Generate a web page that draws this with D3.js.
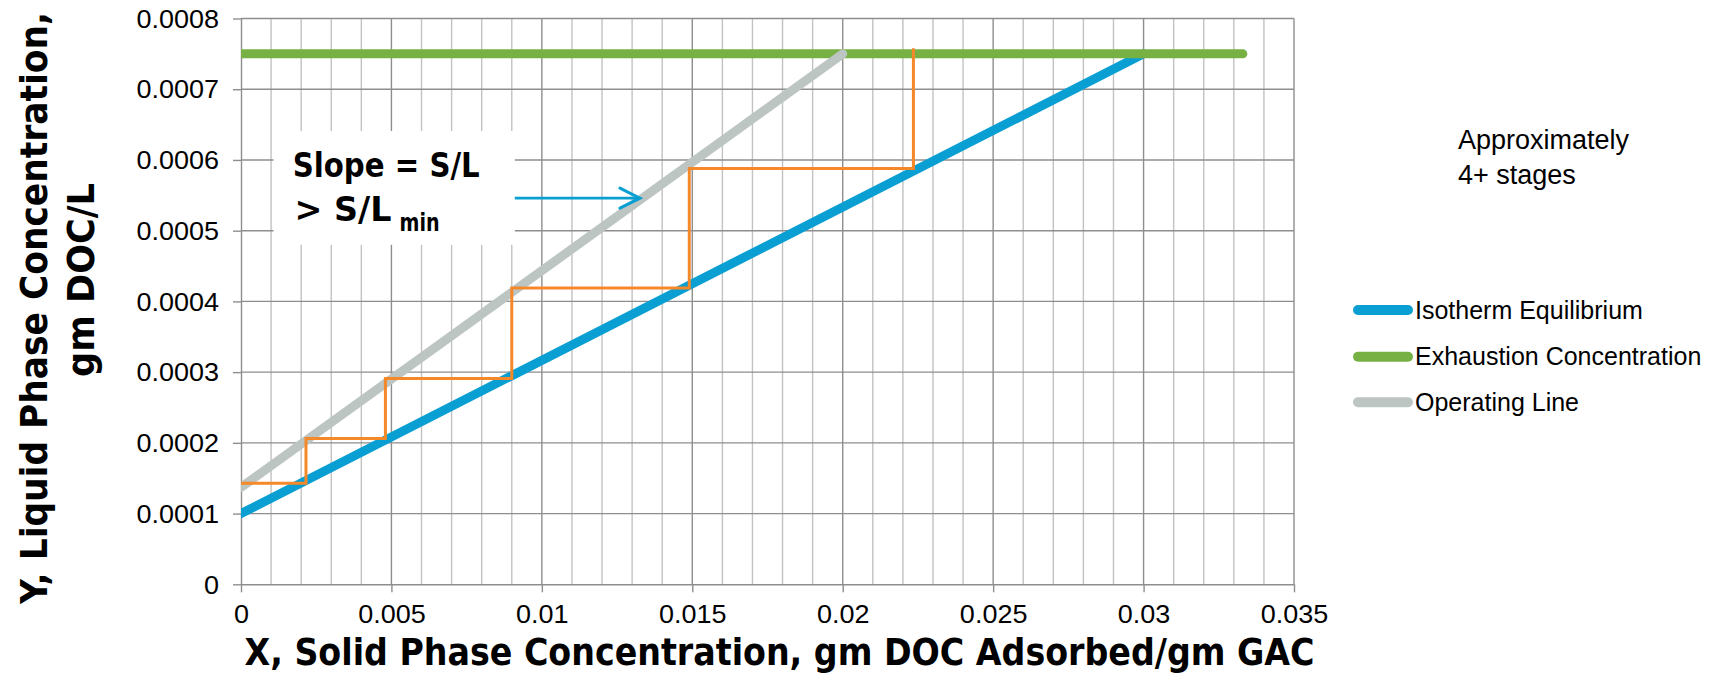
<!DOCTYPE html>
<html>
<head>
<meta charset="utf-8">
<script src="https://cdn.jsdelivr.net/npm/d3@7"></script>
<style>
  html, body { margin: 0; padding: 0; background: #fff; }
  svg { display: block; font-family: "Liberation Sans", Arial, sans-serif; }
  .title { font-family: "DejaVu Sans Condensed", "DejaVu Sans", sans-serif; font-stretch: condensed; font-weight: bold; }
</style>
</head>
<body>
<svg id="chart" width="1716" height="686"></svg>
<script>
// Axis ticks
const xTicks = [0, 0.005, 0.01, 0.015, 0.02, 0.025, 0.03, 0.035];
const xTickLabels = ["0", "0.005", "0.01", "0.015", "0.02", "0.025", "0.03", "0.035"];
const yTicks = [0, 0.0001, 0.0002, 0.0003, 0.0004, 0.0005, 0.0006, 0.0007, 0.0008];
const yTickLabels = ["0", "0.0001", "0.0002", "0.0003", "0.0004", "0.0005", "0.0006", "0.0007", "0.0008"];

// Series: isotherm equilibrium, exhaustion concentration, operating line
const isothermX = [0, 0.03];
const isothermY = [0.0001, 0.00075];
const exhaustionX = [0, 0.0333];
const exhaustionY = [0.00075, 0.00075];
const operatingX = [0, 0.02];
const operatingY = [0.000137, 0.00075];

// Stage-stepping construction between the operating line and the isotherm
const stageX = [0, 0.00216, 0.00216, 0.0048, 0.0048, 0.009, 0.009, 0.0149, 0.0149, 0.02235, 0.02235];
const stageY = [0.000143, 0.000143, 0.000206, 0.000206, 0.000291, 0.000291, 0.000419, 0.000419, 0.000588, 0.000588, 0.000758];

const seriesNames = ["Isotherm Equilibrium", "Exhaustion Concentration", "Operating Line"];
const seriesColors = ["#0a9fd2", "#77b043", "#bcc5c1"];
const stageColor = "#f5892a";

(function draw() {
  const svg = d3.select("#chart");
  const pL = 241, pR = 1294, pT = 18.5, pB = 584.3;

  const x = d3.scaleLinear().domain([0, 0.035]).range([pL, pR]);
  const y = d3.scaleLinear().domain([0, 0.0008]).range([pB, pT]);

  // Grid: minor verticals every 0.001, majors every 0.005, horizontals every 0.0001
  const minorX = d3.range(1, 35).map(i => i / 1000).filter(v => Math.round(v * 1000) % 5 !== 0);
  const grid = svg.append("g");
  grid.selectAll("line.minor").data(minorX).join("line")
    .attr("x1", d => x(d)).attr("x2", d => x(d))
    .attr("y1", pT).attr("y2", pB)
    .attr("stroke", "#c2c2c2").attr("stroke-width", 1.4);
  grid.selectAll("line.majx").data(xTicks.slice(1)).join("line")
    .attr("x1", d => x(d)).attr("x2", d => x(d))
    .attr("y1", pT).attr("y2", pB)
    .attr("stroke", "#8e8e8e").attr("stroke-width", 1.4);
  grid.selectAll("line.majy").data(yTicks.slice(1)).join("line")
    .attr("x1", pL).attr("x2", pR)
    .attr("y1", d => y(d)).attr("y2", d => y(d))
    .attr("stroke", "#8e8e8e").attr("stroke-width", 1.4);

  // Axes
  const xAxis = d3.axisBottom(x).tickValues(xTicks)
    .tickFormat((d, i) => xTickLabels[i]).tickSize(8).tickSizeOuter(0).tickPadding(13);
  const yAxis = d3.axisLeft(y).tickValues(yTicks)
    .tickFormat((d, i) => yTickLabels[i]).tickSize(8).tickSizeOuter(0).tickPadding(14);

  const gx = svg.append("g").attr("transform", `translate(0,${pB})`).call(xAxis);
  const gy = svg.append("g").attr("transform", `translate(${pL},0)`).call(yAxis);
  [gx, gy].forEach(g => {
    g.select(".domain").attr("stroke", "#8e8e8e").attr("stroke-width", 1.4);
    g.selectAll(".tick line").attr("stroke", "#8e8e8e").attr("stroke-width", 1.4);
    g.selectAll(".tick text").attr("fill", "#000").attr("font-size", 25)
      .attr("font-family", "\"Liberation Sans\", Arial, sans-serif")
      .each(function () {
        // labels are set slightly wider than the face's natural width
        const w = this.getComputedTextLength();
        d3.select(this).attr("textLength", w * 1.08).attr("lengthAdjust", "spacingAndGlyphs");
      });
  });
  gy.selectAll(".tick text").attr("dy", "0.35em");

  // Data lines, clipped to the plot area
  svg.append("clipPath").attr("id", "plotClip").append("rect")
    .attr("x", pL).attr("y", 0).attr("width", pR - pL + 20).attr("height", pB);
  const plot = svg.append("g").attr("clip-path", "url(#plotClip)");
  const line = d3.line().x(d => x(d[0])).y(d => y(d[1]));

  const seriesData = [
    d3.zip(isothermX, isothermY),
    d3.zip(exhaustionX, exhaustionY),
    d3.zip(operatingX, operatingY)
  ];
  seriesData.forEach((pts, i) => {
    plot.append("path").attr("d", line(pts))
      .attr("fill", "none").attr("stroke", seriesColors[i])
      .attr("stroke-width", 9).attr("stroke-linecap", "round");
  });

  plot.append("path").attr("d", line(d3.zip(stageX, stageY)))
    .attr("fill", "none").attr("stroke", stageColor)
    .attr("stroke-width", 3).attr("stroke-linejoin", "miter");

  // Slope annotation box
  const ann = svg.append("g");
  ann.append("rect")
    .attr("x", x(0.00108)).attr("y", y(0.000641))
    .attr("width", x(0.0091) - x(0.00108)).attr("height", y(0.00048) - y(0.000641))
    .attr("fill", "#fff");
  ann.append("text").attr("class", "title").attr("x", x(0.00172)).attr("y", y(0.000576))
    .attr("font-size", 34).attr("textLength", 187).attr("lengthAdjust", "spacingAndGlyphs")
    .text("Slope = S/L");
  const t2 = ann.append("text").attr("class", "title").attr("x", x(0.00178)).attr("y", y(0.000513))
    .attr("font-size", 34);
  t2.append("tspan").attr("textLength", 97).attr("lengthAdjust", "spacingAndGlyphs").text("> S/L");
  t2.append("tspan").attr("font-size", 24).attr("dx", 8).attr("dy", 10)
    .attr("textLength", 40).attr("lengthAdjust", "spacingAndGlyphs").text("min");

  // Arrow pointing at the operating line
  const ax0 = x(0.0091), ax1 = x(0.01326), ay = y(0.000546);
  ann.append("line").attr("x1", ax0).attr("x2", ax1 - 1).attr("y1", ay).attr("y2", ay)
    .attr("stroke", "#0a9fd2").attr("stroke-width", 2.6);
  ann.append("path")
    .attr("d", `M${ax1 - 20},${ay - 10}L${ax1},${ay}L${ax1 - 20},${ay + 10}`)
    .attr("fill", "none").attr("stroke", "#0a9fd2").attr("stroke-width", 3)
    .attr("stroke-linecap", "round").attr("stroke-linejoin", "miter");

  // Stage count note
  const note = svg.append("text").attr("font-size", 27).attr("fill", "#000");
  note.append("tspan").attr("x", 1458).attr("y", 149).text("Approximately");
  note.append("tspan").attr("x", 1458).attr("y", 184).text("4+ stages");

  // Legend
  const legend = svg.append("g");
  const legendY = [310, 356.7, 402.3];
  seriesNames.forEach((name, i) => {
    legend.append("line").attr("x1", 1358).attr("x2", 1408)
      .attr("y1", legendY[i]).attr("y2", legendY[i])
      .attr("stroke", seriesColors[i]).attr("stroke-width", 10).attr("stroke-linecap", "round");
    legend.append("text").attr("x", 1415).attr("y", legendY[i] + 8.5)
      .attr("font-size", 25).text(name);
  });

  // Axis titles
  svg.append("text").attr("class", "title").attr("x", (pL + pR) / 2 + 12).attr("y", 665)
    .attr("text-anchor", "middle").attr("font-size", 38)
    .attr("textLength", 1070).attr("lengthAdjust", "spacingAndGlyphs")
    .text("X, Solid Phase Concentration, gm DOC Adsorbed/gm GAC");

  const yt = svg.append("g").attr("transform", "rotate(-90)");
  yt.append("text").attr("class", "title").attr("x", -308).attr("y", 47).attr("text-anchor", "middle")
    .attr("font-size", 38)
    .attr("textLength", 592).attr("lengthAdjust", "spacingAndGlyphs")
    .text("Y, Liquid Phase Concentration,");
  yt.append("text").attr("class", "title").attr("x", -280).attr("y", 94).attr("text-anchor", "middle")
    .attr("font-size", 38)
    .attr("textLength", 194).attr("lengthAdjust", "spacingAndGlyphs")
    .text("gm DOC/L");
})();
</script>
</body>
</html>
